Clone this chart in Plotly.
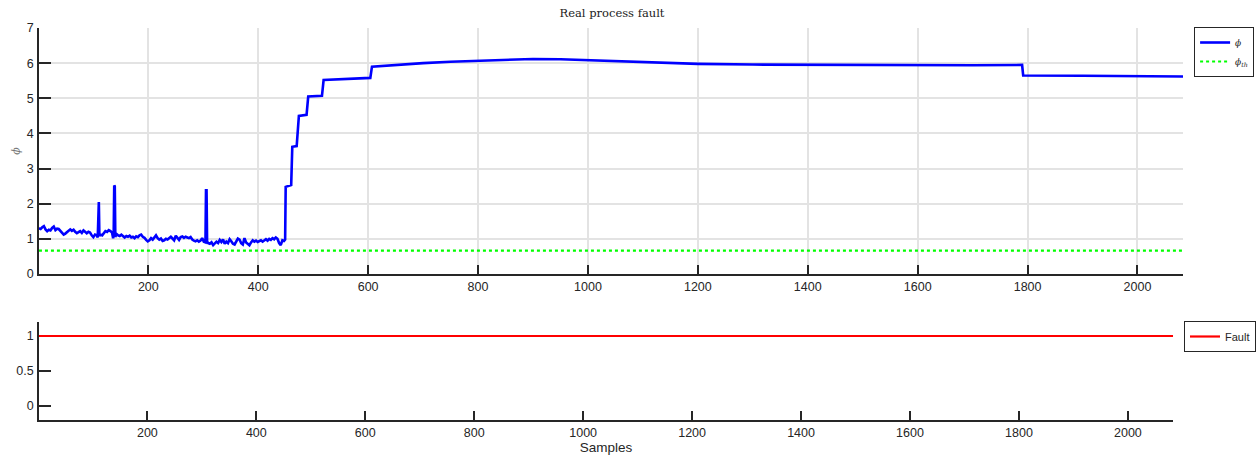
import plotly.graph_objects as go

# ---- data -----------------------------------------------------------------
# detection index phi, sampled at the listed sample numbers
phi_samples = [
    1, 4, 7, 10, 13, 16, 19, 22, 25, 28, 31, 34, 37, 40, 43, 46, 49, 52, 55, 58,
    61, 64, 67, 70, 73, 76, 79, 82, 85, 88, 91, 94, 97, 100, 103, 106, 108, 109, 110, 111,
    113, 116, 119, 122, 125, 128, 131, 134, 136, 137, 138, 139, 140, 142, 145, 148, 151, 154, 157, 160,
    163, 166, 169, 172, 175, 178, 181, 184, 187, 190, 193, 196, 199, 202, 205, 208, 211, 214, 217, 220,
    223, 226, 229, 232, 235, 238, 241, 244, 247, 250, 253, 256, 259, 262, 265, 268, 271, 274, 277, 280,
    283, 286, 289, 292, 295, 298, 301, 304, 305, 306, 307, 309, 312, 315, 318, 321, 324, 327, 330, 333,
    336, 339, 342, 345, 348, 351, 354, 357, 360, 363, 366, 369, 372, 375, 378, 381, 384, 387, 390, 393,
    396, 399, 402, 405, 408, 411, 414, 417, 420, 423, 426, 429, 432, 435, 438, 441, 444, 447, 449, 450,
    455, 460, 462, 470, 474, 488, 491, 516, 519, 560, 604, 607, 650, 700, 750, 800, 850, 900, 950, 1000,
    1050, 1100, 1150, 1200, 1300, 1400, 1500, 1600, 1700, 1790, 1792, 1900, 2000, 2083,
]
phi_values = [
    1.30, 1.28, 1.33, 1.36, 1.27, 1.22, 1.26, 1.24, 1.31, 1.35, 1.25, 1.29, 1.28, 1.22, 1.18, 1.12, 1.15, 1.20, 1.25, 1.27,
    1.23, 1.26, 1.20, 1.16, 1.19, 1.22, 1.17, 1.24, 1.20, 1.16, 1.20, 1.18, 1.10, 1.05, 1.12, 1.10, 1.04, 2.05, 2.05, 1.08,
    1.12, 1.10, 1.18, 1.22, 1.20, 1.25, 1.22, 1.18, 1.02, 1.10, 2.52, 2.50, 1.05, 1.14, 1.10, 1.08, 1.12, 1.07, 1.04, 1.08,
    1.06, 1.09, 1.04, 1.06, 1.02, 1.07, 1.05, 1.10, 1.12, 1.06, 1.03, 0.97, 0.93, 0.96, 1.02, 0.98, 1.06, 1.10, 1.02, 0.98,
    1.01, 0.94, 0.96, 1.00, 0.98, 1.02, 1.06, 1.01, 0.96, 1.09, 1.04, 0.97, 1.05, 1.07, 1.03, 1.06, 1.04, 1.02, 1.05, 0.98,
    0.95, 0.93, 0.96, 0.92, 0.95, 1.02, 0.92, 0.90, 2.38, 2.38, 0.92, 0.88, 0.86, 0.90, 0.82, 0.86, 0.92, 0.88, 0.97, 0.91,
    0.98, 0.86, 0.92, 0.88, 0.99, 0.93, 0.86, 0.84, 0.95, 1.01, 0.98, 0.88, 0.84, 1.02, 0.90, 0.85, 0.82, 0.90, 0.96, 0.92,
    0.95, 0.91, 0.93, 0.96, 0.92, 0.97, 0.99, 0.95, 1.00, 0.97, 1.02, 0.99, 1.04, 1.00, 0.88, 0.82, 0.96, 0.94, 0.98, 2.48,
    2.50, 2.53, 3.62, 3.64, 4.50, 4.53, 5.05, 5.07, 5.52, 5.55, 5.58, 5.90, 5.95, 6.00, 6.04, 6.07, 6.10, 6.12, 6.11, 6.08,
    6.05, 6.02, 6.00, 5.98, 5.96, 5.95, 5.94, 5.94, 5.94, 5.95, 5.65, 5.64, 5.63, 5.62,
]

# detection threshold
threshold_samples = [1, 2083]
threshold_values = [0.665, 0.665]

# fault indicator
fault_samples = [1, 2083]
fault_values = [1, 1]

x_ticks = [200, 400, 600, 800, 1000, 1200, 1400, 1600, 1800, 2000]
top_y_ticks = [0, 1, 2, 3, 4, 5, 6, 7]
bottom_y_ticks = [0, 0.5, 1]

# ---- layout helpers ---------------------------------------------------------
W, H = 1256, 458


def px_x(p):
    return p / W


def px_y(p):
    return 1 - p / H


AX_COLOR = "#262626"
GRID_COLOR = "#e3e3e3"
SANS = "Liberation Sans, Arial, sans-serif"
TICK_FONT = dict(family=SANS, size=12.5, color=AX_COLOR)
SERIF = "DejaVu Serif, serif"

fig = go.Figure()

fig.add_trace(go.Scatter(
    x=phi_samples, y=phi_values, mode="lines", name="<i>ϕ</i>",
    line=dict(color="#0000ff", width=2.6), xaxis="x", yaxis="y", legend="legend",
))
fig.add_trace(go.Scatter(
    x=threshold_samples, y=threshold_values, mode="lines", name="<i>ϕ<sub>th</sub></i>",
    line=dict(color="#00ff00", width=2.2, dash="dot"), xaxis="x", yaxis="y", legend="legend",
))
fig.add_trace(go.Scatter(
    x=fault_samples, y=fault_values, mode="lines", name="Fault",
    line=dict(color="#ff0000", width=2.2), xaxis="x2", yaxis="y2", legend="legend2",
))

# axes sit beneath the data lines
common_x = dict(
    range=[1, 2083], tickvals=x_ticks, ticks="inside", ticklen=9, tickwidth=1.5,
    tickcolor=AX_COLOR, showline=True, linecolor=AX_COLOR, linewidth=1.5,
    zeroline=False, tickfont=TICK_FONT, ticklabelstandoff=0, automargin=False,
    layer="below traces",
)
common_y = dict(
    ticks="inside", ticklen=12, tickwidth=1.5, tickcolor=AX_COLOR,
    showline=True, linecolor=AX_COLOR, linewidth=1.5, zeroline=False,
    tickfont=TICK_FONT, ticklabelstandoff=1, automargin=False,
    layer="below traces",
)

fig.update_layout(
    width=W, height=H,
    margin=dict(l=0, r=0, t=0, b=0),
    paper_bgcolor="white", plot_bgcolor="white",
    title=dict(
        text="Real process fault", x=px_x(612), xanchor="center",
        y=px_y(13), yanchor="middle", font=dict(family=SERIF, size=11.5, color="#222222"),
    ),
    xaxis=dict(
        domain=[px_x(39), px_x(1185)], anchor="y",
        showgrid=True, gridcolor=GRID_COLOR, gridwidth=1.6, **common_x,
    ),
    yaxis=dict(
        domain=[px_y(274), px_y(28)], anchor="x", range=[0, 7], tickvals=top_y_ticks,
        showgrid=True, gridcolor=GRID_COLOR, gridwidth=1.6,
        title=dict(text="<i>ϕ</i>", font=dict(family=SERIF, size=11, color="#777777"), standoff=4),
        **common_y,
    ),
    xaxis2=dict(
        domain=[px_x(39), px_x(1175)], anchor="y2", showgrid=False,
        title=dict(text="Samples", font=dict(family=SANS, size=13.5, color=AX_COLOR), standoff=2),
        **common_x,
    ),
    yaxis2=dict(
        domain=[px_y(420), px_y(322)], anchor="x2", range=[-0.2, 1.2],
        tickvals=bottom_y_ticks, ticktext=["0", "0.5", "1"], showgrid=False, **common_y,
    ),
    legend=dict(
        x=px_x(1196), y=px_y(27), xanchor="left", yanchor="top",
        bgcolor="white", bordercolor=AX_COLOR, borderwidth=1,
        font=dict(family=SERIF, size=9, color=AX_COLOR),
        itemwidth=30, tracegroupgap=0,
    ),
    legend2=dict(
        x=px_x(1186), y=px_y(321), xanchor="left", yanchor="top",
        bgcolor="white", bordercolor=AX_COLOR, borderwidth=1,
        font=dict(family=SANS, size=11, color=AX_COLOR),
        itemwidth=30,
    ),
    showlegend=True,
)

fig.write_html("out.html")
